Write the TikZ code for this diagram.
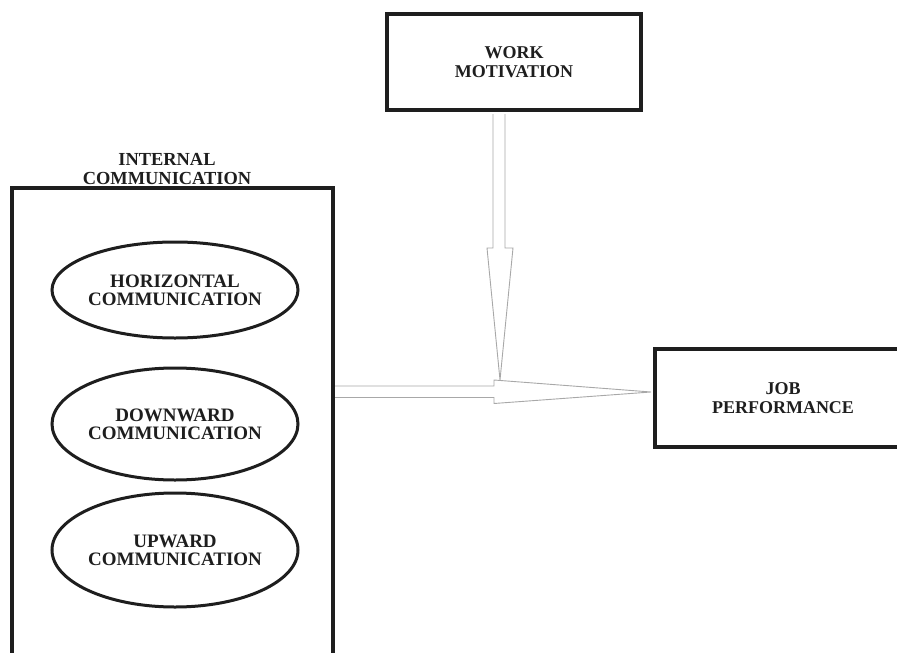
\documentclass[tikz,border=0pt]{standalone}
\usepackage{fontspec}
\setmainfont{Liberation Serif}
\usetikzlibrary{shapes.geometric,calc}
\definecolor{ink}{HTML}{1E1E1E}
\definecolor{arrowgray}{HTML}{A8A8A8}
\tikzset{
  boxnode/.style={draw=ink, line width=4pt, rectangle, inner sep=0pt, align=center,
    text=ink, font=\bfseries\fontsize{18}{19}\selectfont},
  ellnode/.style={draw=ink, line width=3pt, ellipse, inner sep=0pt, align=center,
    minimum width=246pt, text=ink, font=\bfseries\fontsize{19}{18}\selectfont},
  lblnode/.style={inner sep=0pt, align=center, text=ink,
    font=\bfseries\fontsize{18.4}{19}\selectfont},
  fatarrow/.style={draw=arrowgray, line width=0.9pt, line join=miter, fill=white}
}
\begin{document}
\begin{tikzpicture}[x=1pt,y=-1pt]
\useasboundingbox (0,0) rectangle (897,653);
\clip (0,0) rectangle (897,653);
\fill[white] (0,0) rectangle (897,653);

% arrows (drawn first, boxes on top)
\coordinate (hs) at (333,392);
\coordinate (vt) at (500,380);

% nodes
\node[boxnode, minimum width=254pt, minimum height=96pt] (wm) at (514,62) {WORK\\MOTIVATION};
\node[boxnode, minimum width=321pt, minimum height=532pt] (ic) at (172.5,454) {};
\node[lblnode] (iclbl) at (167,169) {INTERNAL\\COMMUNICATION};
\node[boxnode, minimum width=256pt, minimum height=98pt] (jp) at (783,398) {JOB\\PERFORMANCE};
\node[ellnode, minimum height=96pt] (hor) at (175,290) {HORIZONTAL\\COMMUNICATION};
\node[ellnode, minimum height=112pt] (down) at (175,424) {DOWNWARD\\COMMUNICATION};
\node[ellnode, minimum height=114pt] (up) at (175,550) {UPWARD\\COMMUNICATION};

% vertical arrow from WORK MOTIVATION
\draw[fatarrow] ($(wm.south)+(-21,2)$) -- ++(0,134) -- ++(-6,0) -- (vt)
  -- ($(wm.south)+(-1,136)$) -- ++(-8,0) -- ($(wm.south)+(-9,2)$);
% horizontal arrow into JOB PERFORMANCE
\draw[fatarrow] ($(hs)+(2,-6)$) -- (494,386) -- (494,380) -- ($(jp.west)+(-2,-6)$)
  -- (494,403.5) -- (494,397.5) -- ($(hs)+(2,5.5)$);
\end{tikzpicture}
\end{document}
